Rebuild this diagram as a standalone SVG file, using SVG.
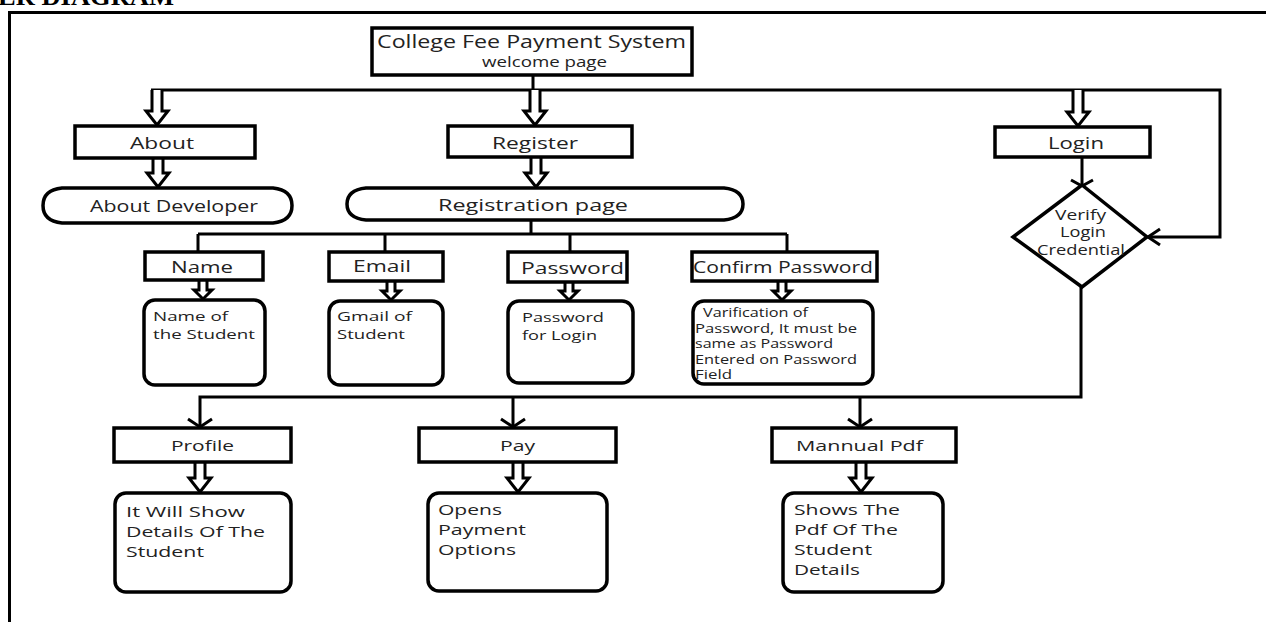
<svg xmlns="http://www.w3.org/2000/svg" width="1266" height="622" viewBox="0 0 1266 622">
<style>
.box{fill:#fff;stroke:#000;stroke-width:3.5}
.ln{fill:none;stroke:#000;stroke-width:3}
.ha{fill:#fff;stroke:#000;stroke-width:3;stroke-linejoin:miter}
.t{font-family:"Open Sans","Noto Sans",sans-serif;fill:#222}
.lb{font-size:17px;text-anchor:start}
.sm{font-size:15px}
.md{font-size:13.5px}
.xs{font-size:12.5px}
</style>
<rect x="0" y="0" width="1266" height="622" fill="#fff"/>
<text x="-2" y="5" font-family="Liberation Serif,serif" font-weight="bold" font-size="26" textLength="176" lengthAdjust="spacingAndGlyphs" fill="#000">ER DIAGRAM</text>
<path d="M8 12.5H1266M9.5 11V622" fill="none" stroke="#000" stroke-width="3"/>

<g id="connectors">
<path class="ln" d="M533 75V90M151 90H1220V237H1149"/>
<path class="ln" d="M1160 229L1148 237L1160 245"/>
<path class="ln" d="M1082 157V185"/>
<path class="ln" d="M1071 180L1082 186L1093 180"/>
<path class="ln" d="M1081 287V397H200V428M513 397V428M860 397V428"/>
<path class="ln" d="M188 419L200 427L212 419M501 419L513 427L525 419M848 419L860 427L872 419"/>
<path class="ln" d="M531 220V234M198 234H787M198 234V252M385 234V252M570 234V252M787 234V252"/>
<polyline class="ha" points="152,90 152,111 146,111 157,125 168,111 162,111 162,90"/>
<polyline class="ha" points="530,90 530,111 524,111 535,125 546,111 540,111 540,90"/>
<polyline class="ha" points="1073,90 1073,112 1067,112 1078,126 1089,112 1083,112 1083,90"/>
<polyline class="ha" points="153,158 153,173 147,173 158,187 169,173 163,173 163,158"/>
<polyline class="ha" points="531,157 531,173 525,173 536,187 547,173 541,173 541,157"/>
<polyline class="ha" points="195,462 195,478 189,478 200,492 211,478 205,478 205,462"/>
<polyline class="ha" points="513,462 513,478 507,478 518,492 529,478 523,478 523,462"/>
<polyline class="ha" points="856,462 856,478 850,478 861,492 872,478 866,478 866,462"/>
<polyline class="ha" points="199,281 199,290 194,290 203,299 212,290 207,290 207,281"/>
<polyline class="ha" points="387,281 387,291 382,291 391,300 400,291 395,291 395,281"/>
<polyline class="ha" points="565,282 565,291 560,291 569,300 578,291 573,291 573,282"/>
<polyline class="ha" points="778,281 778,291 773,291 782,300 791,291 786,291 786,281"/>
</g>

<g id="welcome">
<rect class="box" x="372" y="28" width="320" height="47"/>
<text class="t" x="377" y="48" font-size="18" textLength="309" lengthAdjust="spacingAndGlyphs">College Fee Payment System</text>
<text class="t" x="482" y="67" font-size="15" textLength="125" lengthAdjust="spacingAndGlyphs">welcome page</text>
</g>

<g id="about">
<rect class="box" x="75" y="126" width="180" height="32"/>
<text class="t lb" x="130" y="149" textLength="64" lengthAdjust="spacingAndGlyphs">About</text>
</g>
<g id="about-developer">
<path class="box" d="M62 188H273Q292 190 292 205.5Q292 221 273 223H62Q43 221 43 205.5Q43 190 62 188Z"/>
<text class="t lb" x="90" y="212" textLength="168" lengthAdjust="spacingAndGlyphs">About Developer</text>
</g>

<g id="register">
<rect class="box" x="448" y="126" width="184" height="31"/>
<text class="t lb" x="492" y="149" textLength="86" lengthAdjust="spacingAndGlyphs">Register</text>
</g>
<g id="registration-page">
<path class="box" d="M366 188H724Q743 190 743 204Q743 218 724 220H366Q347 218 347 204Q347 190 366 188Z"/>
<text class="t lb" x="438" y="211" textLength="190" lengthAdjust="spacingAndGlyphs">Registration page</text>
</g>

<g id="login">
<rect class="box" x="995" y="127" width="155" height="30"/>
<text class="t lb" x="1048" y="149" textLength="56" lengthAdjust="spacingAndGlyphs">Login</text>
</g>
<g id="verify">
<polygon class="box" points="1082,185 1147,237 1082,287 1013,237"/>
<text class="t" x="1055" y="220" font-size="14" textLength="51" lengthAdjust="spacingAndGlyphs">Verify</text>
<text class="t" x="1060" y="237" font-size="14" textLength="46" lengthAdjust="spacingAndGlyphs">Login</text>
<text class="t" x="1037" y="255" font-size="14" textLength="88" lengthAdjust="spacingAndGlyphs">Credential</text>
</g>

<g id="name">
<rect class="box" x="145" y="252" width="118" height="28"/>
<text class="t lb" x="171" y="273" textLength="62" lengthAdjust="spacingAndGlyphs">Name</text>
</g>
<g id="email">
<rect class="box" x="329" y="252" width="114" height="29"/>
<text class="t lb" x="353" y="272" textLength="58" lengthAdjust="spacingAndGlyphs">Email</text>
</g>
<g id="password">
<rect class="box" x="508" y="252" width="119" height="30"/>
<text class="t lb" x="521" y="274" textLength="103" lengthAdjust="spacingAndGlyphs">Password</text>
</g>
<g id="confirm-password">
<rect class="box" x="692" y="252" width="185" height="29"/>
<text class="t lb" x="693" y="273" textLength="180" lengthAdjust="spacingAndGlyphs">Confirm Password</text>
</g>

<g id="name-detail">
<rect class="box" x="144" y="300" width="121" height="85" rx="11"/>
<text class="t md" x="153" y="321" textLength="75" lengthAdjust="spacingAndGlyphs">Name of</text>
<text class="t md" x="153" y="339" textLength="102" lengthAdjust="spacingAndGlyphs">the Student</text>
</g>
<g id="email-detail">
<rect class="box" x="329" y="301" width="114" height="84" rx="11"/>
<text class="t md" x="337" y="321" textLength="75" lengthAdjust="spacingAndGlyphs">Gmail of</text>
<text class="t md" x="337" y="339" textLength="68" lengthAdjust="spacingAndGlyphs">Student</text>
</g>
<g id="password-detail">
<rect class="box" x="508" y="301" width="125" height="82" rx="11"/>
<text class="t md" x="522" y="322" textLength="82" lengthAdjust="spacingAndGlyphs">Password</text>
<text class="t md" x="522" y="340" textLength="75" lengthAdjust="spacingAndGlyphs">for Login</text>
</g>
<g id="confirm-detail">
<rect class="box" x="693" y="301" width="180" height="83" rx="11"/>
<text class="t xs" x="703" y="317" textLength="105" lengthAdjust="spacingAndGlyphs">Varification of</text>
<text class="t xs" x="695" y="332.5" textLength="162" lengthAdjust="spacingAndGlyphs">Password, It must be</text>
<text class="t xs" x="695" y="348" textLength="138" lengthAdjust="spacingAndGlyphs">same as Password</text>
<text class="t xs" x="695" y="363.5" textLength="162" lengthAdjust="spacingAndGlyphs">Entered on Password</text>
<text class="t xs" x="695" y="379" textLength="37" lengthAdjust="spacingAndGlyphs">Field</text>
</g>

<g id="profile">
<rect class="box" x="114" y="428" width="177" height="34"/>
<text class="t sm" x="171" y="451" textLength="63" lengthAdjust="spacingAndGlyphs">Profile</text>
</g>
<g id="pay">
<rect class="box" x="419" y="428" width="197" height="34"/>
<text class="t sm" x="500" y="451" textLength="35" lengthAdjust="spacingAndGlyphs">Pay</text>
</g>
<g id="manual-pdf">
<rect class="box" x="772" y="428" width="184" height="34"/>
<text class="t sm" x="796" y="451" textLength="127" lengthAdjust="spacingAndGlyphs">Mannual Pdf</text>
</g>

<g id="profile-detail">
<rect class="box" x="115" y="493" width="176" height="99" rx="11"/>
<text class="t sm" x="126" y="517" textLength="119" lengthAdjust="spacingAndGlyphs">It Will Show</text>
<text class="t sm" x="126" y="537" textLength="139" lengthAdjust="spacingAndGlyphs">Details Of The</text>
<text class="t sm" x="126" y="557" textLength="78" lengthAdjust="spacingAndGlyphs">Student</text>
</g>
<g id="pay-detail">
<rect class="box" x="428" y="493" width="179" height="98" rx="11"/>
<text class="t sm" x="438" y="515" textLength="64" lengthAdjust="spacingAndGlyphs">Opens</text>
<text class="t sm" x="438" y="535" textLength="88" lengthAdjust="spacingAndGlyphs">Payment</text>
<text class="t sm" x="438" y="555" textLength="78" lengthAdjust="spacingAndGlyphs">Options</text>
</g>
<g id="manual-detail">
<rect class="box" x="783" y="493" width="160" height="99" rx="11"/>
<text class="t sm" x="794" y="515" textLength="106" lengthAdjust="spacingAndGlyphs">Shows The</text>
<text class="t sm" x="794" y="535" textLength="104" lengthAdjust="spacingAndGlyphs">Pdf Of The</text>
<text class="t sm" x="794" y="555" textLength="78" lengthAdjust="spacingAndGlyphs">Student</text>
<text class="t sm" x="794" y="575" textLength="66" lengthAdjust="spacingAndGlyphs">Details</text>
</g>
</svg>
